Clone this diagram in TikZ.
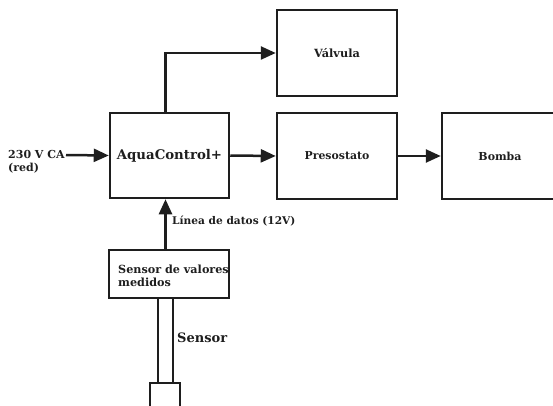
\documentclass[tikz,border=0pt]{standalone}
\usepackage{fontspec}
\setmainfont{DejaVu Serif}
\usetikzlibrary{arrows.meta}
\definecolor{ink}{HTML}{1E1E1E}
\begin{document}
\begin{tikzpicture}[x=1pt,y=-1pt,
  box/.style={draw=ink, line width=2.5pt, inner sep=0pt, text=ink, font=\bfseries},
  arr/.style={draw=ink, line width=2.5pt, -{Triangle[length=15pt,width=13pt]}},
  rod/.style={draw=ink, line width=2.5pt},
  lbl/.style={font=\bfseries, inner sep=0pt, text=ink}]
\useasboundingbox (0,0) rectangle (553,406);
\node[box, minimum width=119pt, minimum height=85pt, font=\bfseries\fontsize{13.3}{15}\selectfont] (ac) at (169.5,155.5) {AquaControl+};
\node[box, minimum width=120pt, minimum height=86pt, font=\bfseries\fontsize{11.3}{13}\selectfont] (valv) at (337,53) {Válvula};
\node[box, minimum width=120pt, minimum height=86pt, font=\bfseries\fontsize{10.9}{13}\selectfont] (pres) at (337,156) {Presostato};
\node[box, minimum width=116pt, minimum height=86pt, font=\bfseries\fontsize{11}{13}\selectfont] (bomba) at (500,156) {Bomba};
\node[box, minimum width=120pt, minimum height=48pt] (sens) at (169,274) {};
\node[lbl, anchor=west, align=left, font=\bfseries\fontsize{11.2}{13.5}\selectfont] (senstxt) at (118,276) {Sensor de valores\\medidos};
\node[box, minimum width=30pt, minimum height=30pt] (probe) at (165,398) {};
\coordinate (vx) at (165.5,0);
\coordinate (src) at (66,155);
\coordinate (r1) at (158,0);
\coordinate (r2) at (173,0);
\node[lbl, anchor=north west, align=left, font=\bfseries\fontsize{11}{13}\selectfont] (in) at (8,150.5) {230 V CA\\(red)};
\node[lbl, anchor=west, font=\bfseries\fontsize{10.6}{12}\selectfont] (linea) at (172,221) {Línea de datos (12V)};
\node[lbl, anchor=west, font=\bfseries\fontsize{13}{15}\selectfont] (sensor) at (177,338) {Sensor};
\draw[arr] (src) -- (ac.west);
\draw[arr] (ac.east) -- (pres.west);
\draw[arr] (pres.east) -- (bomba.west);
\draw[arr] (ac.north -| vx) |- (valv.west);
\draw[arr] (sens.north -| vx) -- (ac.south -| vx);
\draw[rod] (sens.south -| r1) -- (probe.north -| r1);
\draw[rod] (sens.south -| r2) -- (probe.north -| r2);
\end{tikzpicture}
\end{document}
